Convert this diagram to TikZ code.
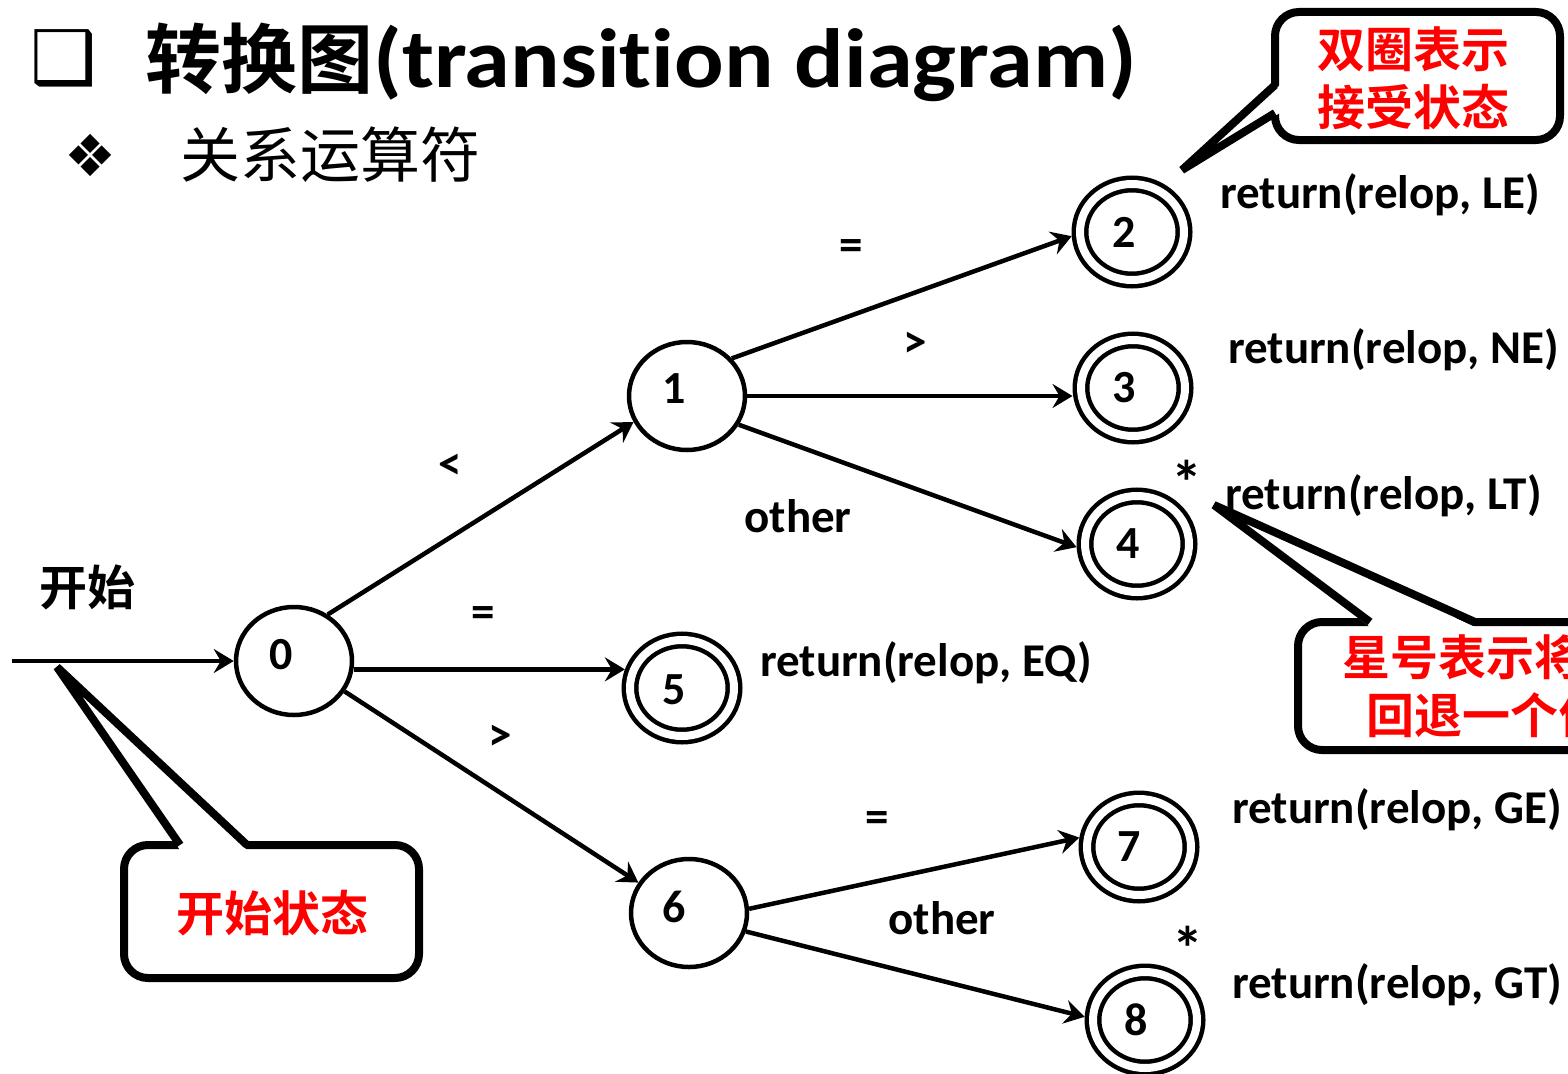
\documentclass[tikz,border=0pt]{standalone}
\usepackage{fontspec}
\setmainfont{Carlito}
\newfontfamily\titlefont{Carlito Bold}[FakeStretch=1.1, Ligatures=NoCommon]
\newfontfamily\cjk{Noto Sans CJK SC Bold}
\newfontfamily\cjkthin{Noto Sans CJK SC}
\newfontfamily\dingfont{DejaVu Sans}
\usetikzlibrary{shapes.geometric,arrows.meta}

\tikzset{
  state/.style={ellipse, draw, line width=4.5pt, minimum width=116pt, minimum height=108pt,
    inner sep=0pt},
  accept/.style={ellipse, draw, line width=4.5pt, double, double distance=8pt,
    minimum width=104pt, minimum height=96pt, inner sep=0pt, outer sep=8.5pt},
  num/.style={inner sep=0pt, font=\fontsize{46}{46}\selectfont\bfseries},
  trans/.style={line width=4.5pt, -{Stealth[length=20pt,width=24pt,inset=7pt]}},
  lab/.style={inner sep=0pt, font=\fontsize{47}{47}\selectfont\bfseries},
  ret/.style={lab, anchor=west},
  star/.style={inner sep=0pt, font=\fontsize{62}{62}\selectfont\bfseries},
  callout/.style={line width=8pt, rounded corners=24pt, fill=white},
  pointer/.style={line width=8pt, line join=bevel},
  tiptext/.style={inner sep=0pt, text=red, align=center, font=\cjk\fontsize{48}{58}\selectfont},
}

\begin{document}
\begin{tikzpicture}[x=1pt, y=-1pt]
  \useasboundingbox (0,0) rectangle (1568,1073);

  % title lines
  \node[font=\dingfont\fontsize{74}{74}\selectfont] (bullet) at (64,58) {❑};
  \node[anchor=west, inner sep=0pt] (title) at (145,62)
    {{\cjk\fontsize{76}{76}\selectfont 转换图}{\titlefont\fontsize{84}{84}\selectfont(transition diagram)}};
  \node[font=\dingfont\fontsize{58}{58}\selectfont] (subbullet) at (90,155) {❖};
  \node[anchor=west, inner sep=0pt, font=\cjkthin\fontsize{60}{60}\selectfont] (subtitle) at (180,155) {关系运算符};

  % states
  \node[state, label={[num, xshift=-13pt, yshift=6pt]center:0}] (q0) at (294,661) {};
  \node[state, label={[num, xshift=-13pt, yshift=7pt]center:1}] (q1) at (687,396) {};
  \node[state, label={[num, xshift=-15pt, yshift=6pt]center:6}] (q6) at (689,913) {};
  \node[accept, label={[num, xshift=-8pt]center:2}] (q2) at (1132,232) {};
  \node[accept, label={[num, xshift=-9pt]center:3}] (q3) at (1133,388) {};
  \node[accept, label={[num, xshift=-9pt]center:4}] (q4) at (1137,544) {};
  \node[accept, label={[num, xshift=-8pt, yshift=-2pt]center:5}] (q5) at (682,688) {};
  \node[accept, label={[num, xshift=-10pt]center:7}] (q7) at (1139,847) {};
  \node[accept, label={[num, xshift=-9pt]center:8}] (q8) at (1145,1020) {};

  % start arrow
  \coordinate (start) at (12,661);
  \node[inner sep=0pt, font=\cjk\fontsize{48}{48}\selectfont] (startlab) at (87,587) {开始};
  \draw[trans] (start) -- (q0);

  % transitions
  \draw[trans] (q0.54) -- (q1.206);
  \draw[trans] (q0.-8) -- (q0.-8 -| q5.162);
  \draw[trans] (q0.-31) -- (q6.149);
  \draw[trans] (q1.40) -- (q2.184);
  \draw[trans] (q1) -- (q1 -| q3.west);
  \draw[trans] (q1.-29) -- (q4.183);
  \draw[trans] (q6.4) -- (q7.171);
  \draw[trans] (q6.-18) -- (q8.177);

  \node[lab] (l01) at (450,467) {<};
  \node[lab] (l05) at (483,617) {=};
  \node[lab] (l06) at (500,738) {>};
  \node[lab] (l12) at (851,250) {=};
  \node[lab] (l13) at (915,345) {>};
  \node[lab] (l14) at (798,516) {other};
  \node[lab] (l67) at (877,822) {=};
  \node[lab] (l68) at (942,918) {other};

  % actions
  \node[ret] (rLE) at (1220,195) {return(relop, LE)};
  \node[ret] (rNE) at (1228,350) {return(relop, NE)};
  \node[ret] (rLT) at (1225,496) {return(relop, LT)};
  \node[ret] (rEQ) at (760,663) {return(relop, EQ)};
  \node[ret] (rGE) at (1232,810) {return(relop, GE)};
  \node[ret] (rGT) at (1232,985) {return(relop, GT)};
  \node[star] (star4) at (1187,482) {*};
  \node[star] (star8) at (1188,948) {*};

  % callouts
  \draw[callout] (1275,12) rectangle (1560,140);
  \fill[white] (1280,85) -- (1182,170) -- (1280,113) -- cycle;
  \draw[pointer] (1275,85) -- (1182,170) -- (1275,113);
  \node[tiptext] (accnote) at (1413,78) {双圈表示\\接受状态};

  \draw[callout] (1298,622) rectangle (1640,750);
  \fill[white] (1370,627) -- (1214,505) -- (1475,627) -- cycle;
  \draw[pointer] (1370,622) -- (1214,505) -- (1475,622);
  \node[tiptext, anchor=north west] (starnote) at (1342,634) {星号表示将指针\\回退一个位置};

  \draw[callout] (124,845) rectangle (419,978);
  \fill[white] (180,850) -- (57,667) -- (247,850) -- cycle;
  \draw[pointer] (180,845) -- (57,667) -- (247,845);
  \node[tiptext] (startnote) at (272,913) {开始状态};
\end{tikzpicture}
\end{document}
